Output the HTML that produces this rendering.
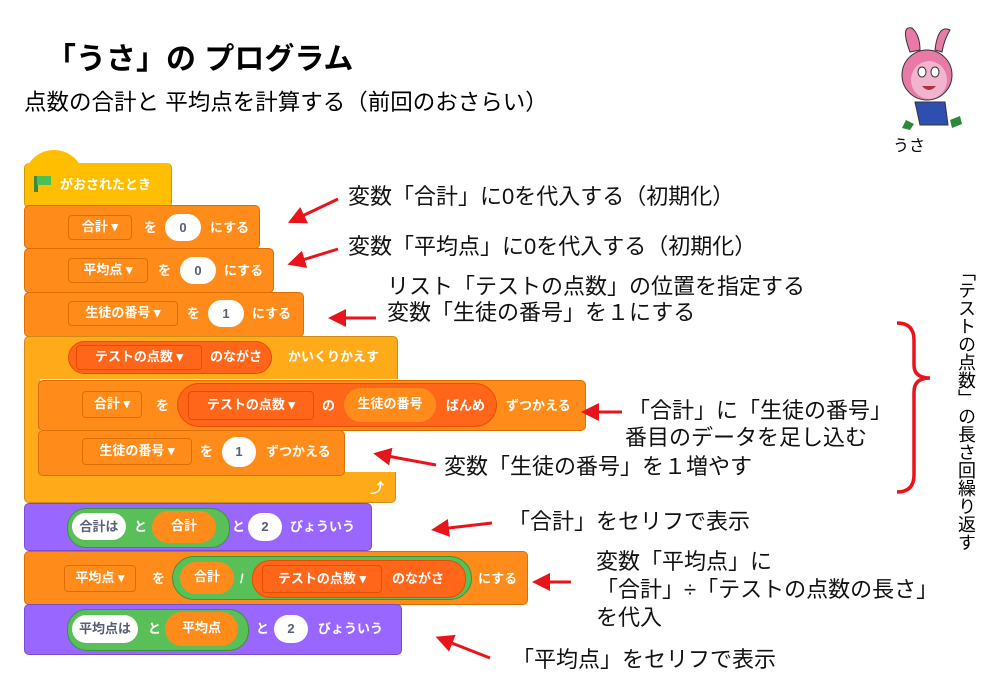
<!DOCTYPE html>
<html><head><meta charset="utf-8"><style>
body{margin:0;width:1000px;height:692px;background:#fff;position:relative;overflow:hidden;font-family:"Liberation Sans","Noto Sans CJK JP",sans-serif;}
.a{position:absolute;white-space:nowrap;}
.t{position:absolute;white-space:nowrap;font-size:22px;line-height:26px;color:#111;}
.b{position:absolute;border-radius:5px;}
.or{background:#FF8C1A;border:1px solid #DB6E00;}
.ye{background:#FFAB19;border:1px solid #CF8B17;}
.pu{background:#9966FF;border:1px solid #774DCB;}
.bt{position:absolute;color:#fff;font-size:13px;line-height:16px;white-space:nowrap;font-weight:bold;}
.dd{position:absolute;border:1px solid #DB6E00;border-radius:4px;background:#FF8C1A;color:#fff;font-size:13px;font-weight:bold;display:flex;align-items:center;justify-content:center;line-height:16px;padding-bottom:2px;box-sizing:border-box;}
.wo{position:absolute;background:#fff;border-radius:16px;color:#575E75;font-size:13px;font-weight:bold;display:flex;align-items:center;justify-content:center;line-height:16px;}
.pill{position:absolute;border-radius:18px;}
</style></head><body>

<div class="a" style="left:46px;top:40px;font-size:30px;font-weight:bold;line-height:40px;">「うさ」の プログラム</div>
<div class="a" style="left:24px;top:89px;font-size:22.5px;line-height:28px;">点数の合計と 平均点を計算する（前回のおさらい）</div>

<!-- mascot -->
<svg class="a" style="left:880px;top:20px" width="100" height="120" viewBox="0 0 100 120">
<path d="M30 32 Q20 5 32 8 Q40 15 40 30Z" fill="#e87aa8" stroke="#333"/>
<path d="M55 30 Q58 4 70 10 Q64 20 62 32Z" fill="#e87aa8" stroke="#333"/>
<ellipse cx="47" cy="55" rx="25" ry="25" fill="#e87aa8" stroke="#333"/>
<ellipse cx="49" cy="60" rx="18" ry="19" fill="#f0b4cf"/>
<ellipse cx="42" cy="52" rx="4" ry="5" fill="#fff" stroke="#333"/><ellipse cx="55" cy="52" rx="4" ry="5" fill="#fff" stroke="#333"/>
<path d="M42 66 Q49 74 56 66Z" fill="#b03040"/>
<path d="M35 82 L65 82 L68 105 L40 105Z" fill="#2f4fb0" stroke="#333"/>
<path d="M26 100 L34 104 L30 110 L22 108Z" fill="#2a8a3a"/><path d="M70 100 L80 96 L82 104 L72 108Z" fill="#2a8a3a"/>
</svg>
<div class="a" style="left:893px;top:132px;font-size:16px;">うさ</div>

<!-- hat block -->
<div class="b" style="left:24px;top:150px;width:60px;height:30px;background:#FFBF00;border-radius:30px 30px 0 0;"></div>
<div class="b" style="left:24px;top:163px;width:146px;height:44px;background:#FFBF00;border:1px solid #CC9900;border-top:none;"></div>
<div class="a" style="left:34px;top:176px;width:4px;height:16px;background:#3a8a3a"></div>
<div class="a" style="left:37px;top:176px;width:14px;height:9px;background:#4cbf56"></div>
<div class="bt" style="left:60px;top:177px;">がおされたとき</div>

<!-- set 合計 -->
<div class="b or" style="left:24px;top:205px;width:234px;height:42px;"></div>
<div class="dd" style="left:68px;top:215px;width:64px;height:25px;">合計 ▾</div>
<div class="bt" style="left:144px;top:220px;">を</div>
<div class="wo" style="left:165px;top:214px;width:36px;height:27px;">0</div>
<div class="bt" style="left:210px;top:220px;">にする</div>

<!-- set 平均点 -->
<div class="b or" style="left:24px;top:248px;width:248px;height:43px;"></div>
<div class="dd" style="left:68px;top:258px;width:80px;height:25px;">平均点 ▾</div>
<div class="bt" style="left:158px;top:263px;">を</div>
<div class="wo" style="left:180px;top:257px;width:36px;height:27px;">0</div>
<div class="bt" style="left:224px;top:263px;">にする</div>

<!-- set 生徒の番号 -->
<div class="b or" style="left:24px;top:292px;width:278px;height:43px;"></div>
<div class="dd" style="left:68px;top:301px;width:110px;height:25px;">生徒の番号 ▾</div>
<div class="bt" style="left:187px;top:306px;">を</div>
<div class="wo" style="left:208px;top:300px;width:36px;height:27px;">1</div>
<div class="bt" style="left:252px;top:306px;">にする</div>

<!-- repeat -->
<div class="b ye" style="left:24px;top:336px;width:372px;height:42px;border-bottom:none;border-radius:5px 5px 0 0;"></div>
<div class="a" style="left:24px;top:370px;width:15px;height:112px;background:#FFAB19;border-left:1px solid #CF8B17;"></div>
<div class="b ye" style="left:24px;top:472px;width:370px;height:30px;border-top:none;border-radius:0 0 5px 5px;"></div>
<div class="pill" style="left:68px;top:341px;width:202px;height:31px;background:#FF661A;border:1px solid #E64D00;"></div>
<div class="a" style="left:76px;top:345px;width:124px;height:23px;background:#FF661A;border:1px solid #E64D00;border-radius:4px;color:#fff;font-size:13px;font-weight:bold;text-align:center;line-height:22px;">テストの点数 ▾</div>
<div class="bt" style="left:210px;top:349px;">のながさ</div>
<div class="bt" style="left:288px;top:349px;">かいくりかえす</div>
<div class="bt" style="left:370px;top:480px;font-size:14px;">⤴</div>

<!-- change 合計 -->
<div class="b or" style="left:38px;top:380px;width:546px;height:49px;"></div>
<div class="dd" style="left:82px;top:391px;width:60px;height:27px;">合計 ▾</div>
<div class="bt" style="left:156px;top:398px;">を</div>
<div class="pill" style="left:177px;top:383px;width:318px;height:42px;background:#FF661A;border:1px solid #E64D00;border-radius:22px;"></div>
<div class="a" style="left:188px;top:391px;width:124px;height:27px;background:#FF661A;border:1px solid #E64D00;border-radius:4px;color:#fff;font-size:13px;font-weight:bold;text-align:center;line-height:26px;">テストの点数 ▾</div>
<div class="bt" style="left:322px;top:398px;">の</div>
<div class="pill" style="left:344px;top:388px;width:92px;height:34px;background:#FF8C1A;border-radius:17px;color:#fff;font-size:13px;font-weight:bold;text-align:center;line-height:32px;">生徒の番号</div>
<div class="bt" style="left:446px;top:398px;">ばんめ</div>
<div class="bt" style="left:506px;top:398px;">ずつかえる</div>

<!-- change 生徒の番号 -->
<div class="b or" style="left:38px;top:430px;width:305px;height:44px;"></div>
<div class="dd" style="left:82px;top:438px;width:110px;height:27px;">生徒の番号 ▾</div>
<div class="bt" style="left:200px;top:444px;">を</div>
<div class="wo" style="left:222px;top:437px;width:34px;height:30px;border-radius:15px;">1</div>
<div class="bt" style="left:266px;top:444px;">ずつかえる</div>

<!-- say 合計 -->
<div class="b pu" style="left:24px;top:503px;width:346px;height:46px;"></div>
<div class="pill" style="left:67px;top:508px;width:161px;height:38px;background:#59C059;border:1px solid #389438;border-radius:19px;"></div>
<div class="wo" style="left:72px;top:513px;width:54px;height:27px;">合計は</div>
<div class="bt" style="left:134px;top:519px;">と</div>
<div class="pill" style="left:152px;top:511px;width:64px;height:32px;background:#FF8C1A;border-radius:16px;color:#fff;font-size:13px;font-weight:bold;text-align:center;line-height:30px;">合計</div>
<div class="bt" style="left:232px;top:519px;">と</div>
<div class="wo" style="left:248px;top:513px;width:34px;height:28px;">2</div>
<div class="bt" style="left:290px;top:519px;">びょういう</div>

<!-- set 平均点 -->
<div class="b or" style="left:24px;top:551px;width:502px;height:52px;"></div>
<div class="dd" style="left:64px;top:565px;width:72px;height:27px;">平均点 ▾</div>
<div class="bt" style="left:152px;top:571px;">を</div>
<div class="pill" style="left:172px;top:556px;width:298px;height:42px;background:#59C059;border:1px solid #389438;border-radius:22px;"></div>
<div class="pill" style="left:180px;top:562px;width:54px;height:32px;background:#FF8C1A;border-radius:16px;color:#fff;font-size:13px;font-weight:bold;text-align:center;line-height:30px;">合計</div>
<div class="bt" style="left:240px;top:571px;">/</div>
<div class="pill" style="left:252px;top:560px;width:212px;height:36px;background:#FF661A;border:1px solid #E64D00;border-radius:18px;"></div>
<div class="a" style="left:262px;top:565px;width:118px;height:26px;background:#FF661A;border:1px solid #E64D00;border-radius:4px;color:#fff;font-size:13px;font-weight:bold;text-align:center;line-height:25px;">テストの点数 ▾</div>
<div class="bt" style="left:392px;top:571px;">のながさ</div>
<div class="bt" style="left:478px;top:571px;">にする</div>

<!-- say 平均点 -->
<div class="b pu" style="left:24px;top:604px;width:376px;height:49px;"></div>
<div class="pill" style="left:67px;top:609px;width:180px;height:40px;background:#59C059;border:1px solid #389438;border-radius:20px;"></div>
<div class="wo" style="left:72px;top:615px;width:66px;height:28px;">平均点は</div>
<div class="bt" style="left:148px;top:621px;">と</div>
<div class="pill" style="left:165px;top:612px;width:73px;height:34px;background:#FF8C1A;border-radius:17px;color:#fff;font-size:13px;font-weight:bold;text-align:center;line-height:32px;">平均点</div>
<div class="bt" style="left:256px;top:621px;">と</div>
<div class="wo" style="left:274px;top:615px;width:34px;height:28px;">2</div>
<div class="bt" style="left:318px;top:621px;">びょういう</div>

<!-- arrows -->
<svg class="a" style="left:0;top:0" width="1000" height="692">
<defs><marker id="m" markerWidth="6" markerHeight="6" refX="3" refY="3" orient="auto"><path d="M0,0 L6,3 L0,6Z" fill="#e8141b"/></marker></defs>
<g stroke="#e8141b" stroke-width="3" marker-end="url(#m)">
<line x1="338" y1="199" x2="296" y2="219"/>
<line x1="338" y1="249" x2="296" y2="262"/>
<line x1="376" y1="318" x2="337" y2="318"/>
<line x1="622" y1="412" x2="590" y2="412"/>
<line x1="436" y1="465" x2="382" y2="455"/>
<line x1="492" y1="523" x2="440" y2="529"/>
<line x1="571" y1="582" x2="541" y2="582"/>
<line x1="490" y1="658" x2="444" y2="640"/>
</g>
<path d="M897 323 Q914 323 914 340 L914 365 Q914 378 930 378 Q914 378 914 392 L914 475 Q914 492 897 492" fill="none" stroke="#e8141b" stroke-width="3.5"/>
</svg>

<div class="t" style="left:348px;top:184px;">変数「合計」に0を代入する（初期化）</div>
<div class="t" style="left:348px;top:234px;">変数「平均点」に0を代入する（初期化）</div>
<div class="t" style="left:387px;top:274px;">リスト「テストの点数」の位置を指定する</div>
<div class="t" style="left:387px;top:300px;">変数「生徒の番号」を１にする</div>
<div class="t" style="left:628px;top:398px;">「合計」に「生徒の番号」</div>
<div class="t" style="left:625px;top:425px;">番目のデータを足し込む</div>
<div class="t" style="left:444px;top:454px;">変数「生徒の番号」を１増やす</div>
<div class="t" style="left:508px;top:509px;">「合計」をセリフで表示</div>
<div class="t" style="left:596px;top:549px;">変数「平均点」に</div>
<div class="t" style="left:596px;top:577px;">「合計」÷「テストの点数の長さ」</div>
<div class="t" style="left:596px;top:605px;">を代入</div>
<div class="t" style="left:512px;top:647px;">「平均点」をセリフで表示</div>

<div class="a" style="left:955px;top:263px;writing-mode:vertical-rl;font-size:18px;line-height:22px;">「テストの点数」の長さ回繰り返す</div>
</body></html>
